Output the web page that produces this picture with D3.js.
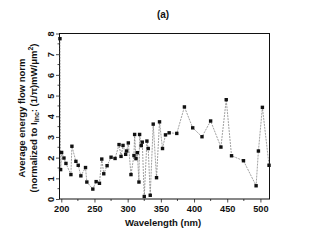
<!DOCTYPE html>
<html><head><meta charset="utf-8">
<script src="https://cdn.jsdelivr.net/npm/d3@7"></script>
<style>body{margin:0;background:#fff}svg{display:block}text{font-family:"Liberation Sans",Arial,sans-serif;font-weight:bold;fill:#111}</style>
</head><body><svg id="c" width="327" height="245"></svg>
<script>
const wavelengths = [198,199,200.5,204,207,214.5,216,222,225.5,229.5,236.5,238.5,247.5,252.5,257.5,261,264,269,275,281,287,290,293,297,298.5,301,305,309.5,310.5,312.5,314.5,317,318,320.5,322,325,329,331,334,338.5,343.5,348,352.5,357,362.5,374,385.5,398,412,425,440.5,448.5,456.5,474.5,493.5,497,503,513];
const energy = [7.75,1.42,2.25,1.98,1.72,1.18,2.55,1.82,1.63,1.12,1.52,0.82,0.48,0.84,0.76,1.93,1.22,1.61,2.02,1.96,2.63,2.06,2.59,2.16,2.32,2.71,1.18,2.1,3.12,1.95,2.24,0.82,3.12,2.58,2.75,0.12,2.8,2.44,0.18,3.62,1.03,3.73,2.44,3.1,3.2,3.17,4.45,3.44,3.01,3.77,2.51,4.8,2.09,1.85,0.64,2.32,4.43,1.63];
const xTicks = [200,250,300,350,400,450,500];
const yTicks = [0,1,2,3,4,5,6,7,8];
const title = "(a)";
const xTitle = "Wavelength (nm)";

const svg = d3.select("#c");
const L=59.5,T=33.5,R=269.5,B=199;
const x = d3.scaleLinear().domain([197.3,513.7]).range([L,R]);
const y = d3.scaleLinear().domain([0,8]).range([B,T]);

const xMinor = d3.range(225,514,50);
const yMinor = d3.range(0.5,8,1);
const g = svg.append("g");
g.selectAll(".xm").data(xMinor).join("line").attr("x1",d=>x(d)).attr("x2",d=>x(d)).attr("y1",B).attr("y2",B+2).attr("stroke","#222").attr("stroke-width",0.8);
g.selectAll(".ym").data(yMinor).join("line").attr("y1",d=>y(d)).attr("y2",d=>y(d)).attr("x1",L).attr("x2",L-2).attr("stroke","#222").attr("stroke-width",0.8);

const xa = svg.append("g").attr("transform",`translate(0,${B})`).call(d3.axisBottom(x).tickValues(xTicks).tickSize(3.5).tickSizeOuter(0).tickPadding(2.5));
xa.select(".domain").remove();
xa.selectAll("line").attr("stroke","#222").attr("stroke-width",0.8);
xa.selectAll("text").attr("font-size",9.2).style("font-family","Liberation Sans, Arial").style("font-weight","bold").attr("fill","#111");

const ya = svg.append("g").attr("transform",`translate(${L},0)`).call(d3.axisLeft(y).tickValues(yTicks).tickSize(3.5).tickSizeOuter(0));
ya.select(".domain").remove();
ya.selectAll("line").attr("stroke","#222").attr("stroke-width",0.8);
ya.selectAll("text").attr("font-size",9.2).style("font-family","Liberation Sans, Arial").style("font-weight","bold").attr("fill","#111")
  .attr("x",null).attr("dy",null).attr("text-anchor","middle")
  .attr("transform","translate(-9,0) rotate(-90)").attr("dy","0.35em");

svg.append("rect").attr("x",L).attr("y",T).attr("width",R-L).attr("height",B-T).attr("fill","none").attr("stroke","#111").attr("stroke-width",1);

const pts = wavelengths.map((w,i)=>[w,energy[i]]);
svg.append("path").datum(pts).attr("fill","none").attr("stroke","#777").attr("stroke-width",0.7).attr("stroke-dasharray","2,1")
  .attr("d",d3.line().x(d=>x(d[0])).y(d=>y(d[1])));
svg.selectAll(".pt").data(pts).join("rect").attr("x",d=>x(d[0])-1.7).attr("y",d=>y(d[1])-1.7).attr("width",3.4).attr("height",3.4).attr("fill","#111");

svg.append("text").attr("x",163).attr("y",18).attr("text-anchor","middle").attr("font-size",10).text(title);
svg.append("text").attr("x",163).attr("y",226).attr("text-anchor","middle").attr("font-size",9.5).text(xTitle);

const yl = svg.append("text").attr("transform","translate(25,118) rotate(-90)").attr("text-anchor","middle").attr("font-size",9.5);
yl.append("tspan").attr("x",0).attr("dy",0).text("Average energy flow norm");
const l2 = svg.append("text").attr("transform","translate(37,118) rotate(-90)").attr("text-anchor","middle").attr("font-size",9.5);
l2.append("tspan").text("(normalized to I");
l2.append("tspan").attr("font-size",7).attr("dy",2).text("inc");
l2.append("tspan").attr("dy",-2).text(": (1/π)mW/μm");
l2.append("tspan").attr("font-size",7).attr("dy",-4).text("2");
l2.append("tspan").attr("dy",4).text(")");
</script></body></html>
